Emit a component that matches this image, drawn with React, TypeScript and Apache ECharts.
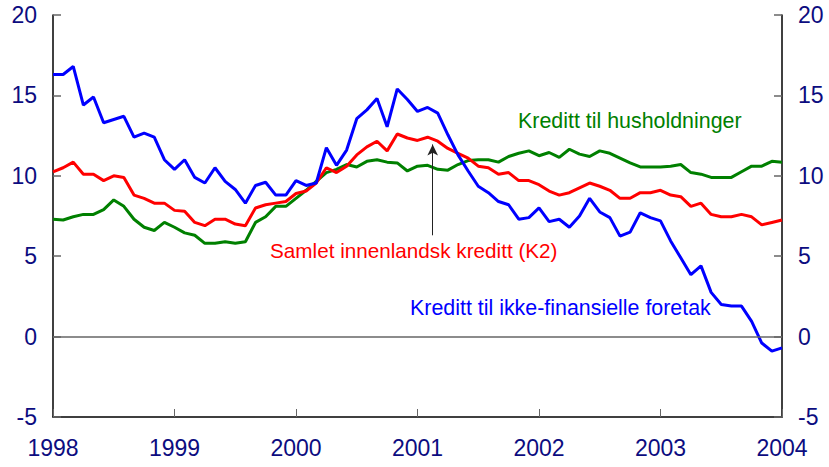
import React, { useEffect, useRef } from "react";
import * as echarts from "echarts";

const years = ["1998", "1999", "2000", "2001", "2002", "2003", "2004"];
const yTicks = [-5, 0, 5, 10, 15, 20];

// Monthly growth rates, Jan 1998 .. Jan 2004 (73 points)
const foretak = [
  16.3, 16.3, 16.8, 14.4, 14.9, 13.3, 13.5, 13.7, 12.4, 12.65, 12.4, 11.0,
  10.4, 11.0, 9.9, 9.55, 10.5, 9.65, 9.15, 8.3, 9.4, 9.6, 8.8, 8.8,
  9.7, 9.4, 9.55, 11.75, 10.65, 11.6, 13.55, 14.1, 14.8, 13.05, 15.4, 14.75,
  14.0, 14.25, 13.9, 12.55, 11.3, 10.3, 9.35, 8.95, 8.4, 8.2, 7.3, 7.4,
  8.0, 7.15, 7.3, 6.8, 7.5, 8.6, 7.75, 7.4, 6.25, 6.5, 7.7, 7.4,
  7.2, 5.95, 4.9, 3.85, 4.4, 2.75, 2.0, 1.9, 1.9, 0.95, -0.4, -0.9,
  -0.7,
];
const k2 = [
  10.25, 10.5, 10.85, 10.1, 10.1, 9.7, 10.0, 9.9, 8.8, 8.6, 8.3, 8.3,
  7.85, 7.8, 7.1, 6.9, 7.3, 7.3, 7.0, 6.9, 8.0, 8.2, 8.3, 8.4,
  8.9, 9.05, 9.55, 10.5, 10.2, 10.6, 11.3, 11.8, 12.15, 11.55, 12.6, 12.35,
  12.2, 12.4, 12.15, 11.7, 11.4, 11.1, 10.6, 10.5, 10.1, 10.2, 9.7, 9.7,
  9.45, 9.05, 8.8, 8.95, 9.25, 9.55, 9.35, 9.1, 8.6, 8.6, 8.95, 8.95,
  9.1, 8.8, 8.7, 8.1, 8.3, 7.6, 7.45, 7.45, 7.6, 7.45, 6.95, 7.1,
  7.25,
];
const husholdninger = [
  7.3, 7.25, 7.45, 7.6, 7.6, 7.9, 8.5, 8.1, 7.3, 6.8, 6.6, 7.1,
  6.8, 6.45, 6.3, 5.8, 5.8, 5.9, 5.8, 5.9, 7.1, 7.45, 8.1, 8.1,
  8.6, 9.1, 9.65, 10.2, 10.4, 10.7, 10.55, 10.9, 11.0, 10.85, 10.8, 10.3,
  10.6, 10.65, 10.4, 10.35, 10.7, 10.95, 11.0, 11.0, 10.85, 11.2, 11.4, 11.55,
  11.25, 11.45, 11.15, 11.65, 11.35, 11.2, 11.55, 11.4, 11.1, 10.8, 10.55, 10.55,
  10.55, 10.6, 10.7, 10.2, 10.1, 9.9, 9.9, 9.9, 10.25, 10.6, 10.6, 10.9,
  10.85,
];

const labelK2 = "Samlet innenlandsk kreditt (K2)";
const labelHus = "Kreditt til husholdninger";
const labelForetak = "Kreditt til ikke-finansielle foretak";

const NAVY = "#0c0c80";
const FONT = "Liberation Sans, Arial, sans-serif";

const toPairs = (arr: number[]) => arr.map((v, i) => [i, v]);

export default function App() {
  const ref = useRef<HTMLDivElement>(null);
  useEffect(() => {
    if (!ref.current) return;
    const chart = echarts.init(ref.current, null, { renderer: "svg" });
    const yAxisBase = {
      type: "value" as const,
      min: yTicks[0],
      max: yTicks[yTicks.length - 1],
      interval: 5,
      splitLine: { show: false },
      axisLine: { show: true, lineStyle: { color: "#000", width: 1.5 } },
      axisTick: { show: true, inside: true, length: 8, lineStyle: { color: "#666", width: 1.5 } },
      axisLabel: { color: NAVY, fontSize: 23, fontFamily: FONT, margin: 16 },
    };
    chart.setOption({
      animation: false,
      backgroundColor: "#fff",
      grid: { left: 53, right: 47, top: 15, bottom: 50, containLabel: false },
      xAxis: {
        type: "value",
        min: 0,
        max: 72,
        interval: 12,
        splitLine: { show: false },
        axisLine: { show: true, onZero: false, lineStyle: { color: "#000", width: 1.5 } },
        axisTick: { show: true, inside: true, length: 8, lineStyle: { color: "#666", width: 1 } },
        axisLabel: {
          color: NAVY,
          fontSize: 23,
          fontFamily: FONT,
          margin: 19,
          formatter: (v: number) => years[Math.round(v / 12)] ?? "",
        },
      },
      yAxis: [
        { ...yAxisBase, position: "left" },
        { ...yAxisBase, position: "right" },
      ],
      series: [
        {
          name: labelHus,
          type: "line",
          data: toPairs(husholdninger),
          symbol: "none",
          lineStyle: { color: "#008000", width: 3 },
          z: 2,
          markLine: {
            silent: true,
            symbol: "none",
            label: { show: false },
            lineStyle: { color: "#666", type: "solid", width: 1.5 },
            data: [{ yAxis: 0 }],
          },
        },
        {
          name: labelK2,
          type: "line",
          data: toPairs(k2),
          symbol: "none",
          lineStyle: { color: "#ff0000", width: 3 },
          z: 3,
          markLine: {
            silent: true,
            label: { show: false },
            lineStyle: { color: "#222", type: "solid", width: 1 },
            symbolSize: [8, 11],
            data: [
              [
                { coord: [37.5, 6.3], symbol: "none" },
                { coord: [37.5, 11.95], symbol: "arrow" },
              ],
            ],
          },
        },
        {
          name: labelForetak,
          type: "line",
          data: toPairs(foretak),
          symbol: "none",
          lineStyle: { color: "#0000ff", width: 3 },
          z: 4,
        },
      ],
      graphic: [
        {
          type: "text",
          left: 518,
          top: 110,
          style: { text: labelHus, fill: "#008000", font: `21.4px ${FONT}` },
        },
        {
          type: "text",
          left: 270,
          top: 240,
          style: { text: labelK2, fill: "#ff0000", font: `20.7px ${FONT}` },
        },
        {
          type: "text",
          left: 410,
          top: 297,
          style: { text: labelForetak, fill: "#0000ff", font: `21.4px ${FONT}` },
        },
      ],
    });
    return () => chart.dispose();
  }, []);
  return (
    <div
      ref={ref}
      style={{ position: "fixed", left: 0, top: 0, width: 829, height: 467, background: "#fff" }}
    />
  );
}
